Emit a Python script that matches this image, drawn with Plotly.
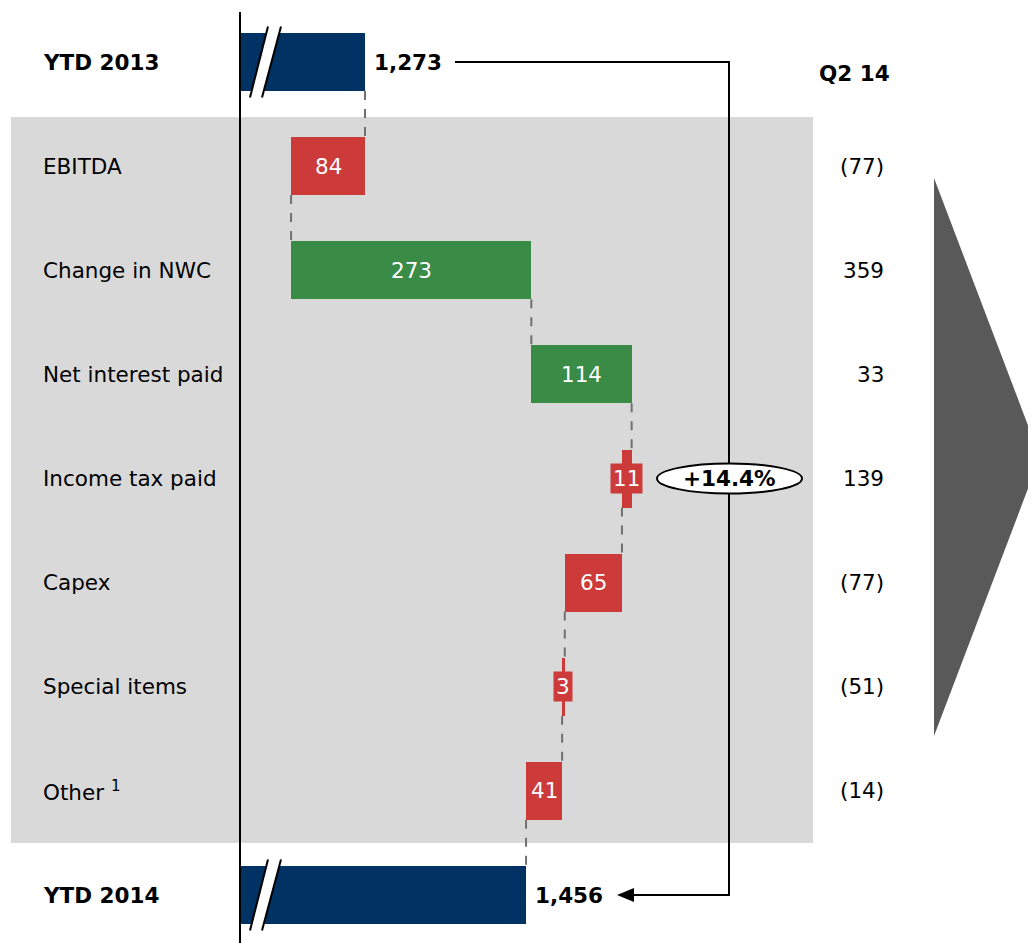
import plotly.graph_objects as go

# ---------------- data ----------------
categories = ["YTD 2013", "EBITDA", "Change in NWC", "Net interest paid",
              "Income tax paid", "Capex", "Special items", "Other", "YTD 2014"]
cat_labels = ["<b>YTD 2013</b>", "EBITDA", "Change in NWC", "Net interest paid",
              "Income tax paid", "Capex", "Special items", "Other <sup>1</sup>", "<b>YTD 2014</b>"]
start_total = 1273
changes = [-84, 273, 114, -11, -65, -3, -41]
end_total = 1456
q2_values = ["(77)", "359", "33", "139", "(77)", "(51)", "(14)"]
growth_label = "+14.4%"
side_header = "Q2 14"

# ---------------- layout constants ----------------
OFF = 8                      # page body margin
W, H = 1036 - OFF, 943 - OFF
PX_PER_UNIT = 0.88
X_LEFT = start_total - (365 - OFF) / PX_PER_UNIT   # value at left edge of the figure
X_RIGHT = X_LEFT + W / PX_PER_UNIT
AXIS_START = start_total - (365 - 240) / PX_PER_UNIT   # axis break position
ROW_PX = 104.125
Y_TOP = -(62 - OFF) / ROW_PX
Y_BOT = Y_TOP + H / ROW_PX
BAR_W = 0.557

NAVY = "#003263"
RED = "#CC3A3A"
GREEN = "#3A8B46"
BAND = "#D9D9D9"
FONT = "DejaVu Sans"
FS = 21.5

def px(xp):
    return (xp - OFF) / W

def py(yp):
    return 1 - (yp - OFF) / H

def ry(yp):
    """reference pixel y -> row units"""
    return (yp - 62) / ROW_PX

# ---------------- compute waterfall ----------------
bases, lengths, colors, ends = [], [], [], []
bases.append(AXIS_START); lengths.append(start_total - AXIS_START); colors.append(NAVY)
ends.append(start_total)
cur = start_total
for c in changes:
    new = cur + c
    bases.append(min(cur, new)); lengths.append(abs(c))
    colors.append(GREEN if c > 0 else RED)
    ends.append(new)
    cur = new
bases.append(AXIS_START); lengths.append(end_total - AXIS_START); colors.append(NAVY)
ends.append(end_total)

fig = go.Figure()
fig.add_trace(go.Bar(
    y=categories, x=lengths, base=bases, orientation="h",
    marker=dict(color=colors, line=dict(width=0)),
    width=BAR_W, hoverinfo="skip", showlegend=False,
))

shapes = []
annotations = []

# grey band behind the change rows
shapes.append(dict(type="rect", xref="paper", yref="y", x0=px(11), x1=px(813),
                   y0=ry(117), y1=ry(843), fillcolor=BAND, line=dict(width=0), layer="below"))

# vertical axis line
shapes.append(dict(type="line", xref="paper", yref="paper", x0=px(240), x1=px(240),
                   y0=py(12), y1=py(960), line=dict(color="black", width=2)))

# connectors
for i in range(len(categories) - 1):
    shapes.append(dict(type="line", xref="x", yref="y", x0=ends[i], x1=ends[i],
                       y0=i + BAR_W / 2, y1=i + 1 - BAR_W / 2,
                       line=dict(color="#707070", width=2, dash="dash")))

# axis-break marks on total bars
for row in (0, len(categories) - 1):
    yb = row + 0.34
    yt = row - 0.34
    xb1, xb2, xt1, xt2 = px(250), px(262), px(268), px(281)
    shapes.append(dict(type="path", xref="paper", yref="y",
                       path=f"M {xb1},{yb} L {xt1},{yt} L {xt2},{yt} L {xb2},{yb} Z",
                       fillcolor="white", line=dict(width=0)))
    shapes.append(dict(type="line", xref="paper", yref="y", x0=xb1, x1=xt1, y0=yb, y1=yt,
                       line=dict(color="black", width=2)))
    shapes.append(dict(type="line", xref="paper", yref="y", x0=xb2, x1=xt2, y0=yb, y1=yt,
                       line=dict(color="black", width=2)))

# bracket
shapes.append(dict(type="path", xref="paper", yref="y",
                   path=f"M {px(455)},0 L {px(729)},0 L {px(729)},8 L {px(630)},8",
                   line=dict(color="black", width=2)))
# arrow head
ah = 7 / ROW_PX
shapes.append(dict(type="path", xref="paper", yref="y",
                   path=f"M {px(617)},8 L {px(634)},{8 - ah} L {px(634)},{8 + ah} Z",
                   fillcolor="black", line=dict(width=0)))
# oval
shapes.append(dict(type="circle", xref="paper", yref="y", x0=px(657), x1=px(802),
                   y0=4 - 15 / ROW_PX, y1=4 + 15 / ROW_PX,
                   fillcolor="white", line=dict(color="black", width=2)))
annotations.append(dict(x=px(729.5), y=4, xref="paper", yref="y", text=f"<b>{growth_label}</b>",
                        showarrow=False, xanchor="center", yanchor="middle",
                        font=dict(family=FONT, size=FS, color="black")))

# right-side arrow
shapes.append(dict(type="path", xref="paper", yref="paper",
                   path=f"M {px(934)},{py(178)} L {px(1040)},{py(457)} L {px(934)},{py(736)} Z",
                   fillcolor="#595959", line=dict(width=0)))

# category labels
for i, lab in enumerate(cat_labels):
    annotations.append(dict(x=px(41), y=categories[i], xref="paper", yref="y", text=lab,
                            showarrow=False, xanchor="left", yanchor="middle",
                            font=dict(family=FONT, size=FS, color="black")))

# total labels
for i, v in ((0, start_total), (len(categories) - 1, end_total)):
    annotations.append(dict(x=v, y=categories[i], xref="x", yref="y", text=f"<b>{v:,}</b>",
                            showarrow=False, xanchor="left", yanchor="middle", xshift=7,
                            font=dict(family=FONT, size=FS, color="black")))

# change labels
for k, c in enumerate(changes):
    i = k + 1
    mid = bases[i] + lengths[i] / 2
    small = abs(c) * PX_PER_UNIT < 25
    annotations.append(dict(x=mid, y=categories[i], xref="x", yref="y", text=f"{abs(c)}",
                            showarrow=False, xanchor="center", yanchor="middle",
                            font=dict(family=FONT, size=FS, color="white"),
                            bgcolor=RED if small else None, borderpad=2))

# Q2 14 column
annotations.append(dict(x=px(854), y=py(73), xref="paper", yref="paper", text=f"<b>{side_header}</b>",
                        showarrow=False, xanchor="center", yanchor="middle",
                        font=dict(family=FONT, size=FS, color="black")))
for k, v in enumerate(q2_values):
    annotations.append(dict(x=px(886), y=categories[k + 1], xref="paper", yref="y", text=v,
                            showarrow=False, xanchor="right", yanchor="middle",
                            font=dict(family=FONT, size=FS, color="black")))

fig.update_layout(
    width=W, height=H, margin=dict(l=0, r=0, t=0, b=0),
    paper_bgcolor="white", plot_bgcolor="white",
    xaxis=dict(range=[X_LEFT, X_RIGHT], visible=False, fixedrange=True),
    yaxis=dict(range=[Y_BOT, Y_TOP], visible=False, categoryorder="array",
               categoryarray=categories, type="category"),
    shapes=shapes, annotations=annotations, bargap=0,
)

fig.write_html("out.html")
